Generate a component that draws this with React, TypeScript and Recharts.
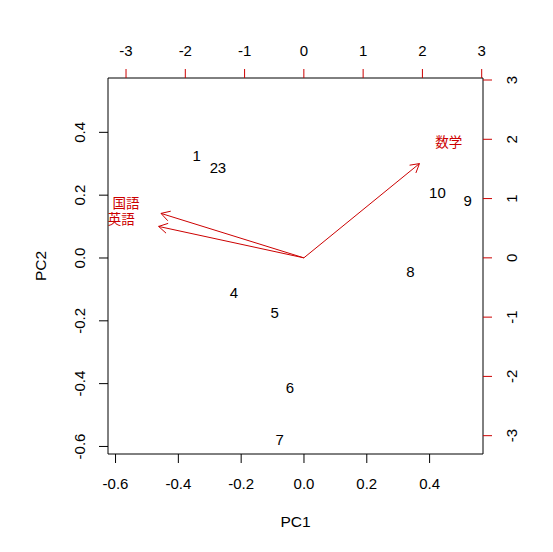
import React from 'react';
import { ScatterChart, Scatter, XAxis, YAxis } from 'recharts';

// observation scores (PC1, PC2)
const obsLabels = ['1', '2', '3', '4', '5', '6', '7', '8', '9', '10'];
const obsPC1 = [-0.342, -0.287, -0.261, -0.223, -0.093, -0.045, -0.077, 0.339, 0.521, 0.425];
const obsPC2 = [0.326, 0.287, 0.287, -0.110, -0.174, -0.413, -0.579, -0.043, 0.183, 0.207];

// variable loadings (top / right scale)
const varLabels = ['国語', '英語', '数学'];
const varTextX = [-3.0, -3.08, 2.445];
const varTextY = [0.92, 0.65, 1.96];
const arrowX = [-2.41, -2.45, 1.95];
const arrowY = [0.75, 0.53, 1.59];

const bottomTicks = [-0.6, -0.4, -0.2, 0.0, 0.2, 0.4];
const leftTicks = [-0.6, -0.4, -0.2, 0.0, 0.2, 0.4];
const topTicks = [-3, -2, -1, 0, 1, 2, 3];
const rightTicks = [-3, -2, -1, 0, 1, 2, 3];

const RED = '#CC0000';
const FONT = '"Liberation Sans", Arial, sans-serif';
const CJK = '"Noto Sans CJK JP", sans-serif';
const FS = 15;

const obsData = obsLabels.map((label, i) => ({ x: obsPC1[i], y: obsPC2[i], label }));
const varData = varLabels.map((label, i) => ({ x: varTextX[i], y: varTextY[i], label }));
const arrows = varLabels.map((label, i) => [
  { x: 0, y: 0 },
  { x: arrowX[i], y: arrowY[i] },
]);

const ObsText = (props: any) => (
  <text x={props.cx} y={props.cy} dy="0.36em" textAnchor="middle" fontSize={FS} fontFamily={FONT} fill="#000">
    {props.payload.label}
  </text>
);

const VarText = (props: any) => (
  <text x={props.cx} y={props.cy} dy="0.36em" textAnchor="middle" fontSize={13.5} fontFamily={CJK} fill={RED}>
    {props.payload.label}
  </text>
);

const renderArrow = (props: any) => {
  const [a, b] = props.points;
  const ang = Math.atan2(b.y - a.y, b.x - a.x);
  const len = 10;
  const spread = Math.PI / 6;
  const p1 = [b.x - len * Math.cos(ang - spread), b.y - len * Math.sin(ang - spread)];
  const p2 = [b.x - len * Math.cos(ang + spread), b.y - len * Math.sin(ang + spread)];
  return (
    <g>
      <line x1={a.x} y1={a.y} x2={b.x} y2={b.y} stroke={RED} strokeWidth={1} />
      <polyline points={`${p1[0]},${p1[1]} ${b.x},${b.y} ${p2[0]},${p2[1]}`} fill="none" stroke={RED} strokeWidth={1} />
    </g>
  );
};

const RotTick = (props: any) => {
  const { x, y, payload, fmt } = props;
  return (
    <text x={x} y={y} transform={`rotate(-90 ${x} ${y})`} textAnchor="middle" fontSize={FS} fontFamily={FONT} fill="#000">
      {fmt(payload.value)}
    </text>
  );
};

const fmt1 = (v: number) => v.toFixed(1);
const fmt0 = (v: number) => String(v);

export default function App() {
  return (
    <div style={{ position: 'absolute', left: 0, top: 0, background: '#fff' }}>
      <ScatterChart width={553} height={552} margin={{ top: 28, right: 20, bottom: 38, left: 28 }}>
        <XAxis
          xAxisId="bottom"
          orientation="bottom"
          type="number"
          dataKey="x"
          domain={[-0.624, 0.57]}
          allowDataOverflow
          ticks={bottomTicks}
          interval={0}
          tickFormatter={fmt1}
          height={60}
          tickSize={9}
          tickMargin={15}
          axisLine={{ stroke: '#000' }}
          tickLine={{ stroke: '#000' }}
          tick={{ fill: '#000', fontSize: FS, fontFamily: FONT }}
          label={{
            content: (p: any) => (
              <text x={p.viewBox.x + p.viewBox.width / 2} y={p.viewBox.y + 73} textAnchor="middle" fontSize={15.5} fontFamily={FONT} fill="#000">
                PC1
              </text>
            ),
          }}
        />
        <XAxis
          xAxisId="top"
          orientation="top"
          type="number"
          dataKey="x"
          domain={[-3.304, 3.022]}
          allowDataOverflow
          ticks={topTicks}
          interval={0}
          tickFormatter={fmt0}
          height={50}
          tickSize={9}
          tickMargin={13}
          axisLine={{ stroke: '#000' }}
          tickLine={{ stroke: RED }}
          tick={{ fill: '#000', fontSize: FS, fontFamily: FONT }}
        />
        <YAxis
          yAxisId="left"
          orientation="left"
          type="number"
          dataKey="y"
          domain={[-0.624, 0.573]}
          allowDataOverflow
          ticks={leftTicks}
          interval={0}
          width={80}
          tickSize={9}
          tickMargin={14}
          axisLine={{ stroke: '#000' }}
          tickLine={{ stroke: '#000' }}
          tick={<RotTick fmt={fmt1} />}
          label={{
            content: (p: any) => {
              const cx = p.viewBox.x + 18;
              const cy = p.viewBox.y + p.viewBox.height / 2;
              return (
                <text x={cx} y={cy} transform={`rotate(-90 ${cx} ${cy})`} textAnchor="middle" fontSize={15.5} fontFamily={FONT} fill="#000">
                  PC2
                </text>
              );
            },
          }}
        />
        <YAxis
          yAxisId="right"
          orientation="right"
          type="number"
          dataKey="y"
          domain={[-3.309, 3.034]}
          allowDataOverflow
          ticks={rightTicks}
          interval={0}
          width={50}
          tickSize={9}
          tickMargin={25}
          axisLine={{ stroke: '#000' }}
          tickLine={{ stroke: RED }}
          tick={<RotTick fmt={fmt0} />}
        />
        <Scatter xAxisId="bottom" yAxisId="left" data={obsData} shape={<ObsText />} isAnimationActive={false} />
        {arrows.map((d, i) => (
          <Scatter
            key={varLabels[i]}
            xAxisId="top"
            yAxisId="right"
            data={d}
            shape={() => <g />}
            line={renderArrow}
            isAnimationActive={false}
          />
        ))}
        <Scatter xAxisId="top" yAxisId="right" data={varData} shape={<VarText />} isAnimationActive={false} />
      </ScatterChart>
    </div>
  );
}
